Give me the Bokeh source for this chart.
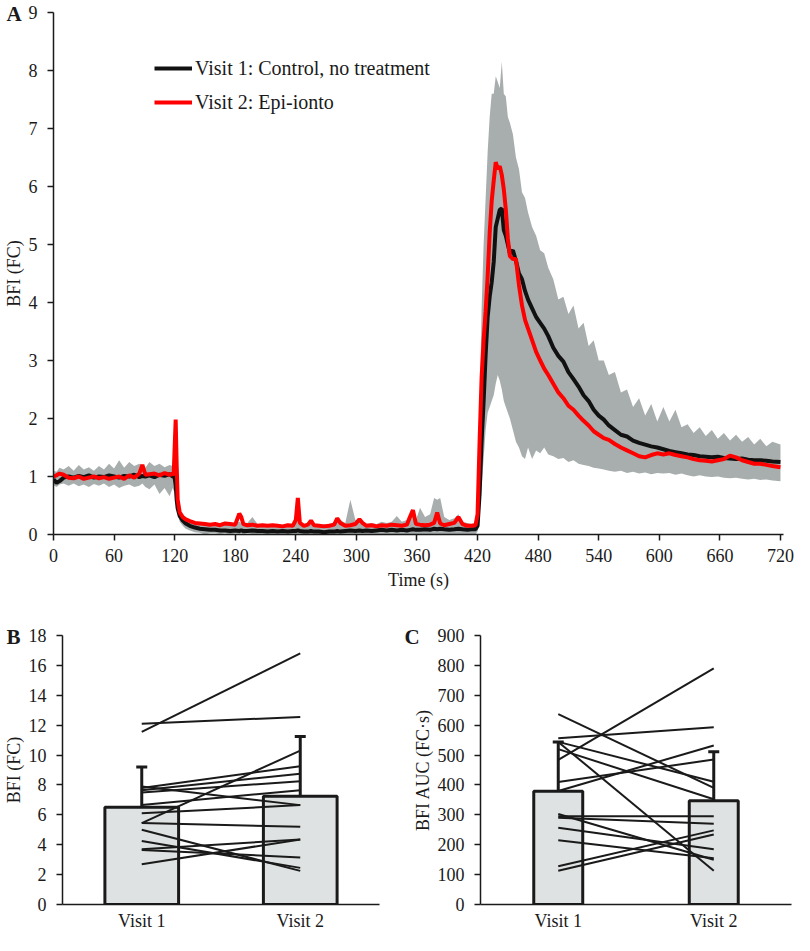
from bokeh.plotting import figure
from bokeh.models import (FixedTicker, Legend, LegendItem, Title, FactorRange, Range1d)
from bokeh.layouts import column, row
from bokeh.embed import file_html
from bokeh.resources import INLINE

FONT = "Liberation Serif"
INK = "#1a1a1a"
GRAY = "#a8aeae"
BAR = "#dfe2e2"

# ---------------- Panel A data (time course) ----------------
time_s = [
    0, 3, 6, 10, 15, 20, 25, 30, 35, 40,
    45, 50, 55, 60, 65, 70, 75, 80, 85, 88,
    91, 95, 100, 105, 110, 115, 118, 119, 120, 121,
    122, 123, 125, 128, 131, 135, 140, 145, 150, 155,
    160, 165, 170, 175, 180, 184, 186, 188, 192, 197,
    202, 207, 212, 217, 222, 227, 232, 237, 240, 242,
    244, 248, 252, 255, 258, 263, 268, 273, 278, 281,
    284, 289, 294, 299, 303, 306, 310, 315, 320, 325,
    330, 335, 340, 345, 350, 353, 356, 359, 363, 368,
    373, 377, 380, 383, 387, 392, 397, 401, 405, 410,
    414, 418, 420, 422, 424, 426, 428, 430, 432, 434,
    436, 438, 440, 442, 444, 446, 448, 450, 452, 455,
    458, 461, 464, 467, 470, 474, 478, 482, 486, 490,
    495, 500, 505, 510, 515, 520, 525, 530, 535, 540,
    545, 550, 556, 562, 568, 574, 580, 586, 592, 598,
    604, 610, 616, 622, 628, 634, 640, 646, 652, 658,
    664, 670, 676, 682, 688, 694, 700, 706, 712, 720,
]
bfi_visit1 = [
    0.95, 0.89, 0.92, 0.98, 1.00, 0.98, 1.01, 0.99, 1.02, 0.98,
    1.00, 0.99, 1.02, 1.00, 0.98, 1.01, 1.00, 1.03, 0.99, 1.01,
    1.00, 1.02, 0.99, 1.03, 1.01, 1.04, 1.00, 1.00, 0.98, 0.85,
    0.60, 0.45, 0.32, 0.24, 0.19, 0.15, 0.12, 0.10, 0.09, 0.08,
    0.08, 0.07, 0.07, 0.06, 0.07, 0.06, 0.07, 0.06, 0.06, 0.07,
    0.06, 0.06, 0.05, 0.06, 0.05, 0.06, 0.05, 0.06, 0.06, 0.07,
    0.06, 0.05, 0.05, 0.06, 0.05, 0.05, 0.04, 0.05, 0.05, 0.06,
    0.05, 0.06, 0.07, 0.06, 0.07, 0.06, 0.07, 0.06, 0.07, 0.08,
    0.07, 0.08, 0.07, 0.08, 0.07, 0.08, 0.09, 0.08, 0.08, 0.09,
    0.08, 0.10, 0.09, 0.10, 0.09, 0.08, 0.09, 0.10, 0.09, 0.08,
    0.09, 0.09, 0.15, 0.70, 1.60, 2.30, 3.10, 3.75, 4.10, 4.35,
    4.70, 5.30, 5.45, 5.60, 5.62, 5.25, 5.15, 5.00, 4.85, 4.90,
    4.72, 4.50, 4.40, 4.20, 4.05, 3.90, 3.75, 3.65, 3.55, 3.42,
    3.22, 3.08, 2.98, 2.80, 2.68, 2.55, 2.40, 2.30, 2.15, 2.05,
    1.98, 1.88, 1.80, 1.72, 1.69, 1.62, 1.58, 1.55, 1.52, 1.50,
    1.47, 1.44, 1.42, 1.40, 1.38, 1.37, 1.35, 1.34, 1.33, 1.34,
    1.32, 1.31, 1.30, 1.31, 1.29, 1.28, 1.28, 1.27, 1.26, 1.25,
]
bfi_visit2 = [
    1.00, 1.02, 1.05, 1.03, 0.98, 0.97, 1.00, 0.96, 0.98, 1.00,
    0.97, 0.99, 0.96, 0.98, 1.00, 0.96, 1.02, 0.98, 1.05, 1.20,
    1.03, 1.04, 1.05, 1.02, 1.06, 1.03, 1.05, 1.02, 1.50, 1.98,
    1.20, 0.60, 0.38, 0.30, 0.26, 0.23, 0.20, 0.19, 0.18, 0.17,
    0.18, 0.16, 0.19, 0.18, 0.17, 0.36, 0.30, 0.18, 0.16, 0.17,
    0.15, 0.16, 0.15, 0.16, 0.15, 0.14, 0.16, 0.15, 0.25, 0.63,
    0.20, 0.15, 0.17, 0.24, 0.16, 0.15, 0.14, 0.15, 0.17, 0.28,
    0.20, 0.15, 0.16, 0.18, 0.26, 0.20, 0.15, 0.16, 0.14, 0.16,
    0.15, 0.17, 0.16, 0.15, 0.17, 0.30, 0.42, 0.18, 0.17, 0.16,
    0.17, 0.20, 0.38, 0.19, 0.16, 0.18, 0.20, 0.30, 0.18, 0.15,
    0.15, 0.16, 0.35, 1.60, 2.70, 3.35, 3.85, 4.45, 5.20, 5.75,
    6.10, 6.42, 6.30, 6.35, 6.20, 5.95, 5.60, 5.10, 4.80, 4.75,
    4.75, 4.30, 3.95, 3.70, 3.55, 3.35, 3.15, 3.00, 2.86, 2.75,
    2.60, 2.45, 2.35, 2.22, 2.15, 2.05, 1.96, 1.88, 1.78, 1.72,
    1.66, 1.63, 1.56, 1.50, 1.45, 1.40, 1.35, 1.33, 1.37, 1.40,
    1.38, 1.40, 1.37, 1.35, 1.33, 1.30, 1.28, 1.27, 1.26, 1.28,
    1.30, 1.36, 1.33, 1.28, 1.25, 1.22, 1.22, 1.20, 1.18, 1.16,
]
band_upper = [
    1.10, 1.08, 1.15, 1.12, 1.18, 1.10, 1.20, 1.12, 1.16, 1.10,
    1.18, 1.12, 1.22, 1.14, 1.28, 1.15, 1.25, 1.18, 1.22, 1.20,
    1.15, 1.25, 1.18, 1.22, 1.16, 1.20, 1.18, 1.15, 1.10, 1.00,
    0.75, 0.55, 0.42, 0.33, 0.28, 0.24, 0.20, 0.20, 0.18, 0.20,
    0.18, 0.20, 0.22, 0.18, 0.20, 0.22, 0.20, 0.18, 0.20, 0.30,
    0.18, 0.16, 0.18, 0.15, 0.17, 0.16, 0.18, 0.16, 0.20, 0.30,
    0.18, 0.16, 0.15, 0.20, 0.16, 0.15, 0.18, 0.16, 0.22, 0.30,
    0.25, 0.20, 0.60, 0.25, 0.22, 0.20, 0.18, 0.20, 0.18, 0.22,
    0.20, 0.22, 0.32, 0.22, 0.25, 0.28, 0.35, 0.25, 0.46, 0.30,
    0.35, 0.63, 0.60, 0.63, 0.30, 0.25, 0.28, 0.35, 0.22, 0.20,
    0.18, 0.20, 0.40, 2.00, 3.90, 5.00, 5.80, 6.60, 7.20, 7.60,
    7.60, 7.90, 7.80, 7.70, 8.15, 7.60, 7.55, 7.20, 7.10, 6.90,
    6.50, 6.30, 5.90, 5.80, 5.55, 5.30, 5.15, 4.90, 4.85, 4.60,
    4.40, 4.05, 4.10, 3.80, 3.95, 3.55, 3.65, 3.25, 3.35, 3.00,
    3.00, 2.75, 2.80, 2.45, 2.50, 2.20, 2.35, 2.05, 2.25, 1.95,
    2.20, 1.95, 2.15, 1.85, 1.90, 1.75, 1.85, 1.70, 1.80, 1.65,
    1.75, 1.62, 1.72, 1.60, 1.68, 1.55, 1.65, 1.52, 1.60, 1.55,
]
band_lower = [
    0.85, 0.82, 0.86, 0.88, 0.84, 0.88, 0.83, 0.86, 0.82, 0.87,
    0.84, 0.88, 0.82, 0.86, 0.80, 0.84, 0.86, 0.82, 0.84, 0.88,
    0.82, 0.78, 0.86, 0.70, 0.80, 0.66, 0.80, 0.75, 0.80, 0.65,
    0.45, 0.35, 0.22, 0.15, 0.10, 0.07, 0.04, 0.03, 0.00, 0.02,
    0.02, 0.01, 0.02, 0.00, 0.02, 0.01, 0.02, 0.00, 0.02, 0.01,
    0.00, 0.01, 0.00, 0.01, 0.00, 0.01, 0.00, 0.01, 0.00, 0.01,
    0.00, 0.01, 0.00, 0.01, 0.00, 0.01, 0.00, 0.01, 0.00, 0.01,
    0.00, 0.01, 0.00, 0.01, 0.00, 0.01, 0.00, 0.01, 0.00, 0.01,
    0.00, 0.01, 0.00, 0.01, 0.00, 0.01, 0.00, 0.01, 0.00, 0.01,
    0.00, 0.01, 0.00, 0.01, 0.00, 0.01, 0.00, 0.01, 0.00, 0.01,
    0.00, 0.00, 0.05, 0.30, 0.80, 1.30, 1.80, 2.10, 2.20, 2.30,
    2.40, 2.60, 2.75, 2.65, 2.50, 2.30, 2.20, 2.10, 2.00, 1.80,
    1.60, 1.50, 1.35, 1.30, 1.50, 1.30, 1.45, 1.40, 1.50, 1.38,
    1.35, 1.30, 1.32, 1.25, 1.28, 1.22, 1.20, 1.18, 1.15, 1.14,
    1.12, 1.10, 1.08, 1.10, 1.06, 1.08, 1.05, 1.07, 1.04, 1.06,
    1.05, 1.06, 1.03, 1.05, 1.02, 1.00, 1.02, 1.00, 0.99, 1.00,
    0.98, 0.97, 0.98, 0.96, 0.95, 0.96, 0.94, 0.95, 0.93, 0.92,
]
x_ticks_a = [0, 60, 120, 180, 240, 300, 360, 420, 480, 540, 600, 660, 720]
y_ticks_a = [0, 1, 2, 3, 4, 5, 6, 7, 8, 9]
legend_labels = ["Visit 1: Control, no treatment", "Visit 2: Epi-ionto"]

# ---------------- Panel B data (peak BFI) ----------------
visits = ["Visit 1", "Visit 2"]
bfi_peak_mean = [6.5, 7.25]
bfi_peak_sd = [2.7, 4.0]
bfi_peak_v1 = [11.55, 12.1, 5.45, 7.8, 7.65, 7.5, 7.9, 6.65, 6.1, 5.45, 5.0, 4.25, 3.7, 3.65, 2.7]
bfi_peak_v2 = [16.8, 12.55, 10.3, 9.25, 8.75, 8.25, 6.65, 7.65, 6.65, 5.2, 2.25, 2.45, 4.35, 3.15, 4.35]
y_ticks_b = [0, 2, 4, 6, 8, 10, 12, 14, 16, 18]

# ---------------- Panel C data (AUC) ----------------
auc_mean = [379, 347]
auc_sd = [165, 164]
auc_v1 = [484, 637, 556, 544, 544, 520, 410, 380, 303, 295, 290, 257, 215, 128, 113]
auc_v2 = [790, 390, 593, 113, 411, 352, 485, 532, 150, 295, 270, 185, 155, 248, 234]
y_ticks_c = [0, 100, 200, 300, 400, 500, 600, 700, 800, 900]


def style(p):
    p.outline_line_color = None
    p.xgrid.grid_line_color = None
    p.ygrid.grid_line_color = None
    p.background_fill_color = "white"
    p.border_fill_color = "white"
    for ax in p.axis:
        ax.axis_line_color = INK
        ax.axis_line_width = 1.5
        ax.major_tick_line_color = INK
        ax.major_tick_line_width = 1.5
        ax.minor_tick_line_color = None
        ax.major_tick_in = 0
        ax.major_tick_out = 6
        ax.major_label_text_font = FONT
        ax.major_label_text_font_size = "18px"
        ax.major_label_text_color = INK
        ax.axis_label_text_font = FONT
        ax.axis_label_text_font_size = "18px"
        ax.axis_label_text_font_style = "normal"
        ax.axis_label_text_color = INK
        ax.axis_label_standoff = 2


def panel_title(text, offset, top_pad):
    return Title(text=text, align="left", offset=offset, vertical_align="top",
                 standoff=-30, padding=dict(left=0, right=0, top=top_pad, bottom=0),
                 text_font=FONT, text_font_style="bold",
                 text_font_size="21px", text_color=INK)


# ---------------- Panel A ----------------
pA = figure(width=794, height=596, x_range=Range1d(0, 723), y_range=Range1d(0, 9),
            output_backend="svg", toolbar_location=None,
            title=panel_title("A", -47, 6),
            min_border_left=47, min_border_right=11, min_border_top=12, min_border_bottom=62)
pA.varea(x=time_s, y1=band_lower, y2=band_upper, fill_color=GRAY, fill_alpha=1.0)
l1 = pA.line(time_s, bfi_visit1, line_color="#111111", line_width=4)
l2 = pA.line(time_s, bfi_visit2, line_color="#ff0000", line_width=4)
style(pA)
pA.xaxis.ticker = FixedTicker(ticks=x_ticks_a)
pA.yaxis.ticker = FixedTicker(ticks=y_ticks_a)
pA.xaxis.axis_label = "Time (s)"
pA.yaxis.axis_label = "BFI (FC)"
pA.xaxis.major_label_standoff = 8
pA.yaxis.major_label_standoff = 10
pA.xaxis.axis_label_standoff = 5
leg = Legend(items=[LegendItem(label=legend_labels[0], renderers=[l1]),
                    LegendItem(label=legend_labels[1], renderers=[l2])],
             location=(101, 420), padding=0, margin=0, border_line_color=None,
             background_fill_alpha=0, label_text_font=FONT, label_text_font_size="20px",
             label_text_color=INK, glyph_width=38, glyph_height=24, label_height=24,
             spacing=10, label_standoff=3)
pA.add_layout(leg)


# ---------------- Panels B and C ----------------
def bar_panel(letter, width, left, right, ymax, ticks, means, sds, v1, v2, bar_w, ylabel,
              letter_offset):
    p = figure(width=width, height=337, x_range=FactorRange(factors=visits),
               y_range=Range1d(0, ymax), output_backend="svg", toolbar_location=None,
               title=panel_title(letter, letter_offset, 24),
               min_border_left=left, min_border_right=right, min_border_top=39,
               min_border_bottom=26)
    p.vbar(x=visits, top=means, width=bar_w, fill_color=BAR, line_color=INK, line_width=3)
    tops = [m + s for m, s in zip(means, sds)]
    p.segment(x0=visits, y0=means, x1=visits, y1=tops, line_color=INK, line_width=3)
    p.scatter(x=visits, y=tops, marker="dash", size=11, line_color=INK, line_width=3)
    xs = [list(visits) for _ in v1]
    ys = [[a, b] for a, b in zip(v1, v2)]
    p.multi_line(xs=xs, ys=ys, line_color=INK, line_width=2)
    style(p)
    p.yaxis.ticker = FixedTicker(ticks=ticks)
    p.yaxis.axis_label = ylabel
    p.yaxis.major_label_standoff = 10
    p.xaxis.major_tick_out = 0
    p.xaxis.major_label_standoff = 6
    return p


pB = bar_panel("B", 400, 56, 21, 18, y_ticks_b, bfi_peak_mean, bfi_peak_sd,
               bfi_peak_v1, bfi_peak_v2, 0.465, "BFI (FC)", -56)
pC = bar_panel("C", 394, 80, 3, 900, y_ticks_c, auc_mean, auc_sd,
               auc_v1, auc_v2, 0.315, "BFI AUC (FC\u00b7s)", -76)

layout = column(pA, row(pB, pC, spacing=0), spacing=0)
open("out.html", "w").write(file_html(layout, INLINE))
